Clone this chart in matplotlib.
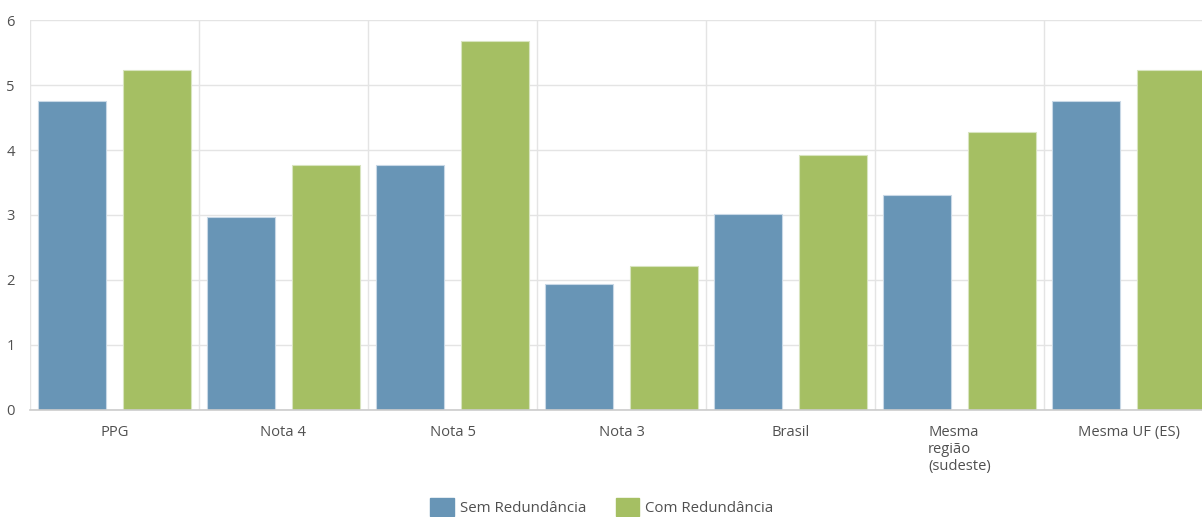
import matplotlib
matplotlib.use("Agg")
import matplotlib.pyplot as plt
import numpy as np
from matplotlib.patches import Patch

plt.rcParams['font.family'] = ['Open Sans', 'DejaVu Sans']

categories = ["PPG", "Nota 4", "Nota 5", "Nota 3", "Brasil", "Mesma\nregião\n(sudeste)", "Mesma UF (ES)"]
sem_redundancia = [4.76, 2.97, 3.77, 1.94, 3.01, 3.31, 4.76]
com_redundancia = [5.24, 3.77, 5.69, 2.21, 3.92, 4.28, 5.24]
series_names = ["Sem Redundância", "Com Redundância"]
yticks = [0, 1, 2, 3, 4, 5, 6]

blue = "#6895b6"
green = "#a5bf63"
text_color = "#505050"

fig = plt.figure(figsize=(12.02, 5.17), dpi=100)
ax = fig.add_axes([30/1202, (517-409.5)/517, 1183/1202, 389/517])

x = np.arange(len(categories))
w = 0.40
ax.bar(x - 0.25, sem_redundancia, width=w, color=blue, edgecolor="#c8d8e6", linewidth=0.8, zorder=3)
ax.bar(x + 0.25, com_redundancia, width=w, color=green, edgecolor="#d8e4bf", linewidth=0.8, zorder=3)

ax.set_xlim(-0.5, len(categories) - 0.5)
ax.set_ylim(0, 6)
ax.set_yticks(yticks)
ax.set_yticklabels([str(v) for v in yticks])
ax.set_xticks(x)
ax.set_xticklabels(categories, multialignment='left', va='top')
ax.set_xticks(np.arange(-0.5, len(categories), 1.0), minor=True)

ax.grid(axis='y', which='major', color="#e4e4e4", linewidth=1, zorder=0)
ax.grid(axis='x', which='minor', color="#e4e4e4", linewidth=1, zorder=0)
ax.grid(axis='x', which='major', visible=False)

for s in ['top', 'right', 'left']:
    ax.spines[s].set_visible(False)
ax.spines['bottom'].set_color("#cccccc")
ax.spines['bottom'].set_linewidth(1.2)
ax.spines['bottom'].set_zorder(4)

ax.tick_params(axis='both', which='both', length=0, labelsize=10.6, colors=text_color)
ax.tick_params(axis='x', pad=11)
ax.tick_params(axis='y', pad=11)

handles = [Patch(facecolor=blue, edgecolor=blue, label=series_names[0]),
           Patch(facecolor=green, edgecolor=green, label=series_names[1])]
leg = fig.legend(handles=handles, loc='center', bbox_to_anchor=(602/1202, 1 - 507/517), ncol=2,
                 frameon=False, fontsize=10.8, handlelength=1.55, handleheight=1.55,
                 handletextpad=0.4, columnspacing=2.0, labelcolor=text_color)

fig.savefig("out.png", dpi=100)
